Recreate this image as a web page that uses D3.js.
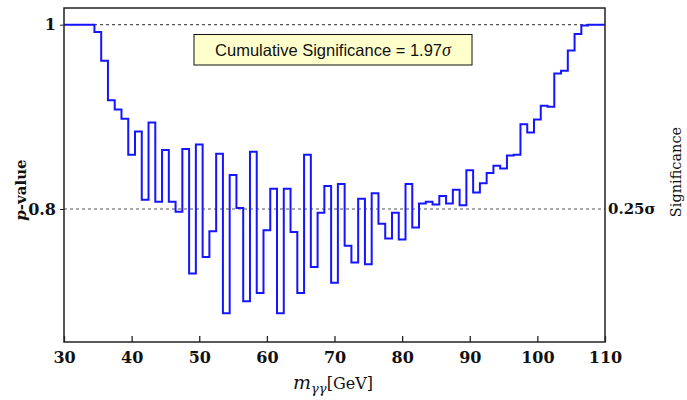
<!DOCTYPE html>
<html><head><meta charset="utf-8">
<script src="https://cdn.jsdelivr.net/npm/d3@7"></script>
<style>body{margin:0;background:#fff}svg{display:block}</style>
</head><body>
<svg id="c" width="687" height="400"></svg>
<script>
const mass = d3.range(30, 111); // bin centres, GeV
const pvalue = [
 1.000,1.000,1.000,1.000,1.000, 0.992,0.961,0.918,0.908,0.898,
 0.859,0.884,0.810,0.894,0.808, 0.864,0.808,0.797,0.865,0.730,
 0.870,0.748,0.776,0.860,0.687, 0.837,0.801,0.700,0.862,0.709,
 0.777,0.822,0.687,0.822,0.775, 0.709,0.859,0.737,0.796,0.825,
 0.720,0.827,0.760,0.742,0.811, 0.740,0.817,0.784,0.768,0.796,
 0.767,0.827,0.780,0.806,0.808, 0.805,0.814,0.806,0.821,0.804,
 0.842,0.818,0.828,0.839,0.847, 0.844,0.858,0.859,0.892,0.883,
 0.897,0.912,0.911,0.947,0.950, 0.972,0.990,0.999,1.000,1.000,1.000
];
const xTicks = [30,40,50,60,70,80,90,100,110];
const yTicks = [1, 0.8];
const yTickLabels = ["1", "0.8"];
const rightTicks = [0.8];
const rightTickLabels = ["0.25σ"];
const cumulative = "1.97";

const svg = d3.select("#c");
const L = 64, R = 605, T = 8, B = 342;
const x = d3.scaleLinear().domain([30, 110]).range([L, R]);
const y = d3.scaleLinear().domain([0.6557, 1.0181]).range([B, T]);

svg.append("defs").append("clipPath").attr("id","clip")
  .append("rect").attr("x",L).attr("y",T).attr("width",R-L).attr("height",B-T);

// dashed reference lines
svg.selectAll("line.ref").data(yTicks).join("line")
  .attr("x1",L).attr("x2",R).attr("y1",d=>y(d)).attr("y2",d=>y(d))
  .attr("stroke","#555").attr("stroke-width",1.2).attr("stroke-dasharray","3,3");

// step line
const line = d3.line().x((d,i)=>x(mass[i])).y(d=>y(d)).curve(d3.curveStep);
svg.append("path").datum(pvalue).attr("d",line)
  .attr("fill","none").attr("stroke","#1515ff").attr("stroke-width",2)
  .attr("clip-path","url(#clip)");

// frame
svg.append("rect").attr("x",L).attr("y",T).attr("width",R-L).attr("height",B-T)
  .attr("fill","none").attr("stroke","#222").attr("stroke-width",1.5);

const serif = "'DejaVu Serif', 'Liberation Serif', serif";

// bottom axis
const gx = svg.append("g").attr("transform",`translate(0,${B})`)
  .call(d3.axisBottom(x).tickValues(xTicks).tickSizeInner(-6).tickSizeOuter(0).tickPadding(10).tickFormat(d3.format("d")));
gx.select(".domain").remove();
gx.selectAll("line").attr("stroke","#222").attr("stroke-width",1.3);
gx.selectAll("text").attr("font-family",serif).attr("font-size",16).attr("fill","#111").attr("font-weight","bold");

// left axis
const gy = svg.append("g").attr("transform",`translate(${L},0)`)
  .call(d3.axisLeft(y).tickValues(yTicks).tickSize(4).tickPadding(4).tickFormat((d,i)=>yTickLabels[i]));
gy.select(".domain").remove();
gy.selectAll("line").attr("stroke","#222");
gy.selectAll("text").attr("font-family",serif).attr("font-size",16).attr("fill","#111").attr("font-weight","bold");

// right axis
const gr = svg.append("g").attr("transform",`translate(${R},0)`)
  .call(d3.axisRight(y).tickValues(rightTicks).tickSize(0).tickPadding(3).tickFormat((d,i)=>rightTickLabels[i]));
gr.select(".domain").remove();
gr.selectAll("text").attr("font-family",serif).attr("font-size",15).attr("fill","#111").attr("font-weight","bold");

// axis titles
const xt = svg.append("text").attr("x",333).attr("y",389).attr("text-anchor","middle")
  .attr("font-family",serif).attr("font-size",16).attr("fill","#111");
xt.append("tspan").attr("font-style","italic").attr("font-size",19).text("m");
xt.append("tspan").attr("font-style","italic").attr("font-size",13).attr("dy",4).text("γγ");
xt.append("tspan").attr("dy",-4).text("[GeV]");

const yt = svg.append("text").attr("transform","translate(26,190) rotate(-90)").attr("text-anchor","middle")
  .attr("font-family",serif).attr("font-size",15).attr("fill","#111").attr("font-weight","bold");
yt.append("tspan").attr("font-style","italic").text("p");
yt.append("tspan").text("-value");

svg.append("text").attr("transform","translate(681,172) rotate(-90)").attr("text-anchor","middle")
  .attr("font-family",serif).attr("font-size",14.5).attr("fill","#111").text("Significance");

// annotation box
svg.append("rect").attr("x",194).attr("y",34.5).attr("width",278).attr("height",30.5)
  .attr("fill","#ffffcc").attr("stroke","#111").attr("stroke-width",1);
const bt = svg.append("text").attr("x",333).attr("y",56).attr("text-anchor","middle")
  .attr("font-family","'Liberation Sans', Arial, sans-serif").attr("font-size",16.5).attr("fill","#111");
bt.append("tspan").text(`Cumulative Significance = ${cumulative}`);
bt.append("tspan").attr("font-style","italic").attr("font-family","'Liberation Serif', serif").attr("font-size",18).text("σ");
</script>
</body></html>
